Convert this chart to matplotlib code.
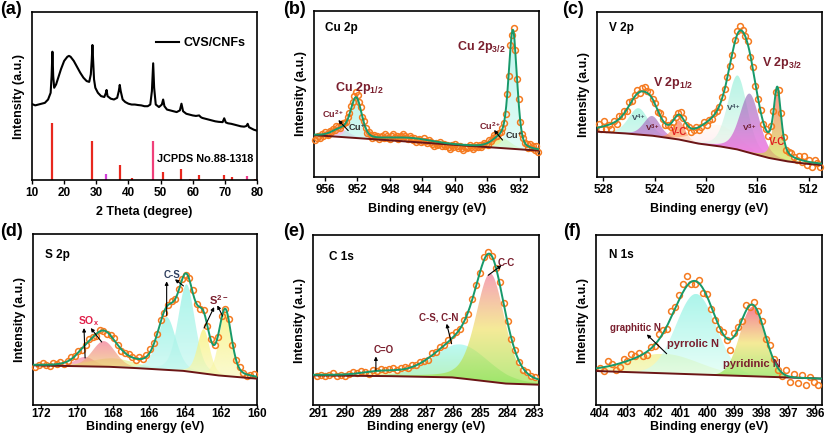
import numpy as np
import matplotlib
matplotlib.use("Agg")
import matplotlib.pyplot as plt
from matplotlib.colors import LinearSegmentedColormap

plt.rcParams['font.family'] = ['Liberation Sans', 'DejaVu Sans']
plt.rcParams['font.weight'] = 'bold'
plt.rcParams['mathtext.fontset'] = 'custom'
plt.rcParams['mathtext.rm'] = 'Liberation Sans:bold'
plt.rcParams['mathtext.it'] = 'Liberation Sans:bold'
plt.rcParams['mathtext.bf'] = 'Liberation Sans:bold'
plt.rcParams['axes.linewidth'] = 1.2

# ---------------- (a) XRD ----------------
xrd_2theta = [10, 11, 12, 13, 14, 15, 15.8, 16.1, 16.35, 16.6, 16.9, 17.5, 18, 19, 20, 21, 21.5, 22, 23, 24,
              25, 26, 27, 27.8, 28.3, 28.6, 28.8, 29.0, 29.3, 29.7, 30.5, 31.5, 32.5, 33.0, 33.2, 33.5, 34.5,
              35.5, 36.5, 37.0, 37.3, 37.6, 38.2, 39, 40, 41, 42, 43, 44, 45, 46, 46.8, 47.3, 47.7, 48.0,
              48.5, 49.5, 50.4, 50.8, 51.2, 52, 53, 54, 55, 56.0, 56.5, 57.0, 58, 59, 60, 61, 62, 62.5, 63,
              64, 65, 66, 67, 68, 69.3, 69.8, 70.3, 71, 72, 73, 74, 75, 76, 76.7, 77.1, 77.5, 78, 79, 80]
xrd_int = [0.453, 0.445, 0.45, 0.455, 0.46, 0.48, 0.52, 0.62, 0.765, 0.62, 0.55, 0.57, 0.6, 0.66, 0.71, 0.735,
           0.74, 0.735, 0.71, 0.675, 0.64, 0.61, 0.59, 0.585, 0.63, 0.72, 0.805, 0.72, 0.6, 0.55, 0.52, 0.5,
           0.495, 0.52, 0.537, 0.5, 0.485, 0.48, 0.49, 0.53, 0.567, 0.53, 0.48, 0.465, 0.455, 0.45, 0.45,
           0.447, 0.445, 0.44, 0.44, 0.45, 0.53, 0.696, 0.55, 0.45, 0.435, 0.45, 0.48, 0.44, 0.42, 0.415,
           0.41, 0.405, 0.415, 0.455, 0.41, 0.395, 0.39, 0.385, 0.382, 0.385, 0.375, 0.37, 0.365, 0.36,
           0.355, 0.35, 0.347, 0.345, 0.368, 0.343, 0.338, 0.335, 0.33, 0.325, 0.32, 0.318, 0.322, 0.335,
           0.315, 0.31, 0.3, 0.294]
ref_pos = [16.3, 28.8, 33.1, 37.3, 41.0, 47.7, 50.8, 56.5, 59.3, 62.0, 69.8, 72.2, 77.0, 79.5]
ref_int = [0.338, 0.235, 0.036, 0.089, 0.01, 0.233, 0.05, 0.064, 0.008, 0.03, 0.03, 0.02, 0.024, 0.006]
ref_col = ['#e8281e', '#e8281e', '#d23fd8', '#e8281e', '#e8281e', '#f0407a', '#e8281e', '#e8281e',
           '#e8281e', '#e8281e', '#e8281e', '#e8281e', '#ee3c8c', '#e8281e']

# ---------------- XPS panels: baseline points, peak centers/heights/FWHM, residuals ----------------
b_base_x = [957.35, 929.6]
b_base_y = [0.251, 0.157]
b_cen = [954.0, 952.15, 945.5, 934.2, 932.85]
b_hgt = [0.045, 0.235, 0.022, 0.06, 0.69]
b_fwhm = [2.5, 1.6, 6.0, 2.6, 1.2]
b_eta = [0.2, 0.3, 0.0, 0.2, 0.3]
b_res = [-3, -2, -1, -2, 0, -1, 1, 0, -1, 1, 0,
         1, 0, 2, 1, 0, 1, 2, 1, 0, 1,
         1, 2, 1, 2, 3, 2, 1, 2, 0, 1,
         0, -1, 1, 0, -1, 1, 0, 1, -1, 0,
         1, 0, 2, 1, 0, -1, 1, 2, 0, 1, -1, 0, 1, 2, 1, 0, -1, 1, 0, -1,
         0, -2, -1, 0, -2, -1, 1, -1, -2, 0, -1, -2, -3, -1, -2, -1, 0, -2, -1, -2,
         -1, -2, -3, -1, -2, 0, -1, -2, -1, -2, -3, -1, -2, -1, 0, -1, -2, -1, 0, -1,
         0, -1, 0, 1, 0, -1, 1, 0, 1, 2, 1, 0, 1, 0, 1,
         0, -1, 1, -2, 2, -2, 3, 0, -2, 1, -1, -1,
         1, 0, 1, -1, 2, 0, 1, -1, 2, -2]

c_base_x = [528.5, 526, 524, 522, 520.5, 518.7, 517.5, 516, 515, 513.5, 512, 511]
c_base_y = [0.274, 0.262, 0.248, 0.225, 0.2, 0.182, 0.165, 0.132, 0.112, 0.091, 0.077, 0.071]
c_cen = [525.8, 525.25, 524.2, 522.1, 519.0, 517.55, 516.6, 514.45]
c_hgt = [0.06, 0.16, 0.12, 0.115, 0.13, 0.45, 0.36, 0.41]
c_fwhm = [4.0, 1.8, 1.5, 1.1, 3.5, 1.8, 1.8, 0.7]
c_eta = [0.0, 0.3, 0.3, 0.3, 0.0, 0.3, 0.3, 0.6]
c_res = [2, -1, 3, -2, 0, -3, 1, -2, 2, 0,
         1, -1, 2, 0, 1, 2, -1, 2, 3, 1,
         2, 0, 1, -1, 2, 1, -1, 0, -2, -1,
         0, 1, 2, 1, -1, 0, -2, -1, 1, -2,
         -1, 1, -2, 0, -1, 1, 0, -1, 1, 0,
         1, 0, -1, 1, 2, 3, 1, 0, 2, -1,
         1, -1, 0, 1, -1, 0, -2, 1, 0, -1,
         1, 2, 0, -1, 1, 2, 0, -1, 2, -1,
         3, -2, 1, -3, 2, 0, -2]

d_base_x = [172.45, 168, 166, 164, 162, 160]
d_base_y = [0.231, 0.222, 0.211, 0.198, 0.17, 0.153]
d_cen = [169.55, 168.0, 168.5, 165.0, 163.9, 162.95, 161.75]
d_hgt = [0.055, 0.05, 0.15, 0.31, 0.51, 0.26, 0.375]
d_fwhm = [1.3, 3.0, 1.5, 1.2, 1.1, 0.8, 0.8]
d_eta = [0.2, 0.0, 0.2, 0.3, 0.3, 0.3, 0.3]
d_res = [-1, 0, 1, 0, -1, 1, 0, 1, -1, 0,
         1, 0, 1, -1, 0, 1, 0, -1, 1, 0,
         -1, 0, 1, 0, -1, 0, 1, 0, -1, 1,
         0, 1, 2, 1, 0, 1, -1, 0, 1, 0,
         1, 0, -1, 1, 2, 0, -1, 1, 0, 1,
         0, -1, 1, 0, 1, -1, 0, 1, 0, -1,
         0, 1]

e_base_x = [291.2, 288, 286, 285, 284, 282.8]
e_base_y = [0.173, 0.168, 0.161, 0.142, 0.124, 0.118]
e_cen = [288.7, 285.7, 284.62]
e_hgt = [0.02, 0.2, 0.64]
e_fwhm = [1.5, 2.4, 1.25]
e_eta = [0.0, 0.2, 0.3]
e_res = [-1, 0, -1, 0, 1, -1, 0, -1, 0, 1,
         0, 1, 0, -1, 1, 0, 1, 0, 1, 1,
         0, 1, 1, 0, 1, 0, 1, 0, -1, 1,
         0, 1, 0, 1, 2, 1, 0, 1, -1, 1,
         1, 0, 2, 1, 0, -1, 1, 0, 1, 0,
         1, 0, -1, 1, 0, 1]

f_base_x = [404.15, 395.75]
f_base_y = [0.199, 0.154]
f_cen = [401.6, 400.42, 398.32]
f_hgt = [0.115, 0.475, 0.41]
f_fwhm = [3.0, 1.75, 1.1]
f_eta = [0.0, 0.0, 0.0]
f_res = [0, -2, 3, 1, -3, -2, 2, 0, 3, 1,
         2, -1, -2, 1, -1, 3, 2, -2, 4, 1,
         3, 5, 6, -1, -2, 2, -3, 1, -2, -3,
         -2, 1, -1, -6, 2, 1, -1, 3, -1, 2,
         1, 2, -1, 3, 1, -1, -2, 3, -3, 2,
         -3, 2, -4, 1, -2, -4]

# gradient colours (top -> bottom) for each component
b_fill = [['#e8a0dc', '#f4c8e8'], ['#9ff0e6', '#c8f8ec'], ['#f8e0ec', '#fff4f8'],
          ['#c8ec50', '#e0f490'], ['#9ff0e6', '#d0faf0']]
c_fill = [['#ffffff', '#fff4f4'], ['#8ef0d8', '#f4fff8'], ['#9a70b8', '#f048e0'], ['#ff6a50', '#f8e040'],
          ['#fff8f0', '#ffd8ec'], ['#8ef0d8', '#fff8f0'], ['#9070b8', '#ff40e0'], ['#ff5a48', '#c8f040']]
d_fill = [['#f07898', '#f8c0c8'], ['#e0f080', '#f0f8b0'], ['#f06a88', '#f0f060'], ['#80f0e0', '#c8f8f0'],
          ['#80f0e0', '#c8f8f0'], ['#f8f060', '#f8f8b8'], ['#f8f060', '#f8f8b8']]
e_fill = [['#f0f080', '#f8f8c0'], ['#98f8f0', '#90e890'], ['#f07090', '#f0e060', '#90e040']]
f_fill = [['#f0f080', '#f0f8b0'], ['#80f0e0', '#e0fff4'], ['#f04060', '#f0e060', '#80e040']]

FIT = '#17996a'
BASE = '#6b1515'
PT = '#f57a1f'
DRED = '#7a1f2e'


def pv(x, c, h, w, eta):
    g = np.exp(-4 * np.log(2) * ((x - c) / w) ** 2)
    l = 1.0 / (1 + 4 * ((x - c) / w) ** 2)
    return h * ((1 - eta) * g + eta * l)


def base(x, bx, by):
    order = np.argsort(bx)
    return np.interp(x, np.array(bx)[order], np.array(by)[order])


def grad_fill(ax, x, lo, hi, colors, alpha=0.65):
    poly = ax.fill_between(x, lo, hi, facecolor='none', edgecolor='none')
    path = poly.get_paths()[0]
    cmap = LinearSegmentedColormap.from_list('g', colors[::-1])
    img = np.linspace(0, 1, 256).reshape(-1, 1)
    im = ax.imshow(img, cmap=cmap, aspect='auto', origin='lower', alpha=alpha,
                   extent=[x.min(), x.max(), lo.min(), hi.max()], zorder=1,
                   interpolation='bilinear')
    im.set_clip_path(path, transform=ax.transData)


def xps(ax, xlim, bx, by, cen, hgt, fwhm, eta, fills, res):
    x = np.linspace(min(xlim), max(xlim), 900)
    bl = base(x, bx, by)
    total = bl.copy()
    for c, h, w, e, col in zip(cen, hgt, fwhm, eta, fills):
        comp = pv(x, c, h, w, e)
        total += comp
        grad_fill(ax, x, bl, bl + comp, col)
    xp = np.linspace(xlim[0] - 0.15, xlim[1] + 0.15, len(res))
    yp = base(xp, bx, by) + sum(pv(xp, c, h, w, e) for c, h, w, e in zip(cen, hgt, fwhm, eta))
    yp = yp + np.array(res) * 0.01
    ax.plot(xp, yp, 'o', ms=4.2, mfc='none', mec=PT, mew=1.1, zorder=3, clip_on=False)
    ax.plot(x, bl, color=BASE, lw=1.4, zorder=4)
    ax.plot(x, total, color=FIT, lw=1.4, zorder=5)


def style(ax, xlim, xticks, xlabel, row):
    ax.set_xlim(*xlim)
    ax.set_ylim(0, 1)
    ax.set_xticks(xticks)
    ax.set_yticks([])
    ax.tick_params(axis='x', direction='out', length=3 if row == 1 else 2, width=1,
                   labelsize=8.5, pad=2 if row == 1 else 0.5)
    for lab in ax.get_xticklabels():
        lab.set_fontweight('bold')
    ax.set_xlabel(xlabel, fontsize=9, fontweight='bold', labelpad=5 if row == 1 else 0.5)
    ax.set_ylabel('Intensity (a.u.)', fontsize=9, fontweight='bold', labelpad=5)


def arrow(ax, p0, p1):
    ax.annotate('', xy=p1, xytext=p0, xycoords='axes fraction',
                arrowprops=dict(arrowstyle='-|>', color='black', lw=0.8,
                                mutation_scale=5, shrinkA=0, shrinkB=0), zorder=6)


def txt(ax, x, y, s, size, color, ha='center'):
    ax.text(x, y, s, transform=ax.transAxes, fontsize=size, color=color, fontweight='bold',
            ha=ha, va='center', zorder=6)


W, H = 833, 444
fig = plt.figure(figsize=(W / 100, H / 100), dpi=100)


def add_ax(x0, x1, y0, y1):
    return fig.add_axes([x0 / W, 1 - y1 / H, (x1 - x0) / W, (y1 - y0) / H])


axa = add_ax(32, 257, 12.3, 180)
axb = add_ax(314, 539.3, 11, 176.7)
axc = add_ax(596.7, 821.7, 12.3, 176.7)
axd = add_ax(32.7, 256.7, 234.3, 404.7)
axe = add_ax(313.3, 539.3, 235.3, 404.7)
axf = add_ax(595.7, 821.7, 235.3, 404.7)

# (a)
axa.plot(xrd_2theta, xrd_int, color='black', lw=1.5, label='CVS/CNFs')
for p, v, col in zip(ref_pos, ref_int, ref_col):
    axa.vlines(p, 0, v, color=col, lw=1.6)
style(axa, (10, 80), range(10, 81, 10), '2 Theta (degree)', 1)
axa.legend(loc='upper right', bbox_to_anchor=(1.0, 0.92), frameon=False,
           handlelength=1.8, handletextpad=0.4, prop={'weight': 'bold', 'size': 9})
txt(axa, 0.77, 0.125, 'JCPDS No.88-1318', 7.8, 'black')

# (b)
xps(axb, (957.35, 929.6), b_base_x, b_base_y, b_cen, b_hgt, b_fwhm, b_eta, b_fill, b_res)
style(axb, (957.35, 929.6), range(956, 929, -4), 'Binding energy (eV)', 1)
txt(axb, 0.05, 0.895, 'Cu 2p', 8.5, 'black', ha='left')
txt(axb, 0.85, 0.785, r'Cu 2p$_{3/2}$', 9, DRED, ha='right')
txt(axb, 0.093, 0.533, r'Cu 2p$_{1/2}$', 9, DRED, ha='left')
txt(axb, 0.086, 0.376, r'Cu$^{2+}$', 6.5, DRED)
txt(axb, 0.19, 0.302, r'Cu$^{+}$', 6.5, '#303030')
txt(axb, 0.781, 0.306, r'Cu$^{2+}$', 6.5, DRED)
txt(axb, 0.885, 0.252, r'Cu$^{+}$', 6.5, '#303030')
arrow(axb, (0.152, 0.278), (0.108, 0.342))
arrow(axb, (0.837, 0.221), (0.799, 0.282))

# (c)
xps(axc, (528.5, 511.0), c_base_x, c_base_y, c_cen, c_hgt, c_fwhm, c_eta, c_fill, c_res)
style(axc, (528.5, 511.0), range(528, 511, -4), 'Binding energy (eV)', 1)
txt(axc, 0.056, 0.903, 'V 2p', 8.5, 'black', ha='left')
txt(axc, 0.25, 0.568, r'V 2p$_{1/2}$', 9, DRED, ha='left')
txt(axc, 0.733, 0.69, r'V 2p$_{3/2}$', 9, DRED, ha='left')
txt(axc, 0.185, 0.355, r'V$^{4+}$', 6, '#3a4a5a')
txt(axc, 0.249, 0.294, r'V$^{3+}$', 6, '#6a1a2a')
txt(axc, 0.367, 0.27, 'V-C', 7, '#e02020')
txt(axc, 0.61, 0.416, r'V$^{4+}$', 6, '#3a4a5a')
txt(axc, 0.679, 0.294, r'V$^{3+}$', 6, '#6a1a2a')
txt(axc, 0.803, 0.213, 'V-C', 7, '#e02020')

# (d)
xps(axd, (172.45, 160.0), d_base_x, d_base_y, d_cen, d_hgt, d_fwhm, d_eta, d_fill, d_res)
style(axd, (172.45, 160.0), range(172, 159, -2), 'Binding energy (eV)', 2)
txt(axd, 0.055, 0.877, 'S 2p', 8.5, 'black', ha='left')
txt(axd, 0.249, 0.489, r'SO$_x$', 7.5, '#e0204a')
arrow(axd, (0.234, 0.274), (0.229, 0.45))
arrow(axd, (0.308, 0.368), (0.259, 0.45))
txt(axd, 0.62, 0.759, 'C-S', 7, '#304060')
arrow(axd, (0.598, 0.524), (0.598, 0.724))
arrow(axd, (0.673, 0.697), (0.635, 0.736))
txt(axd, 0.829, 0.613, r'S$^{2-}$', 8, DRED)
arrow(axd, (0.765, 0.45), (0.81, 0.573))
arrow(axd, (0.848, 0.52), (0.824, 0.583))

# (e)
xps(axe, (291.2, 282.8), e_base_x, e_base_y, e_cen, e_hgt, e_fwhm, e_eta, e_fill, e_res)
style(axe, (291.2, 282.8), range(291, 282, -1), 'Binding energy (eV)', 2)
txt(axe, 0.071, 0.872, 'C 1s', 8.5, 'black', ha='left')
txt(axe, 0.855, 0.839, 'C-C', 7, DRED)
arrow(axe, (0.774, 0.764), (0.833, 0.823))
txt(axe, 0.553, 0.512, 'C-S, C-N', 7, DRED)
arrow(axe, (0.612, 0.36), (0.59, 0.478))
txt(axe, 0.31, 0.325, 'C=O', 7, DRED)
arrow(axe, (0.277, 0.203), (0.277, 0.285))

# (f)
xps(axf, (404.15, 395.75), f_base_x, f_base_y, f_cen, f_hgt, f_fwhm, f_eta, f_fill, f_res)
style(axf, (404.15, 395.75), range(404, 395, -1), 'Binding energy (eV)', 2)
txt(axf, 0.06, 0.882, 'N 1s', 8.5, 'black', ha='left')
txt(axf, 0.178, 0.453, 'graphitic N', 7, DRED)
arrow(axf, (0.314, 0.301), (0.226, 0.415))
txt(axf, 0.432, 0.36, 'pyrrolic N', 8, DRED)
txt(axf, 0.69, 0.242, 'pyridinic N', 8, DRED)

# panel tags
for tag, xx, yy in [('(a)', 0, 0), ('(b)', 283, 0), ('(c)', 562, 0),
                    ('(d)', 0, 222), ('(e)', 283, 222), ('(f)', 563, 222)]:
    fig.text(xx / W, 1 - (yy + 1) / H, tag, fontsize=13, fontweight='bold', ha='left', va='top')

fig.savefig('out.png', dpi=100)
